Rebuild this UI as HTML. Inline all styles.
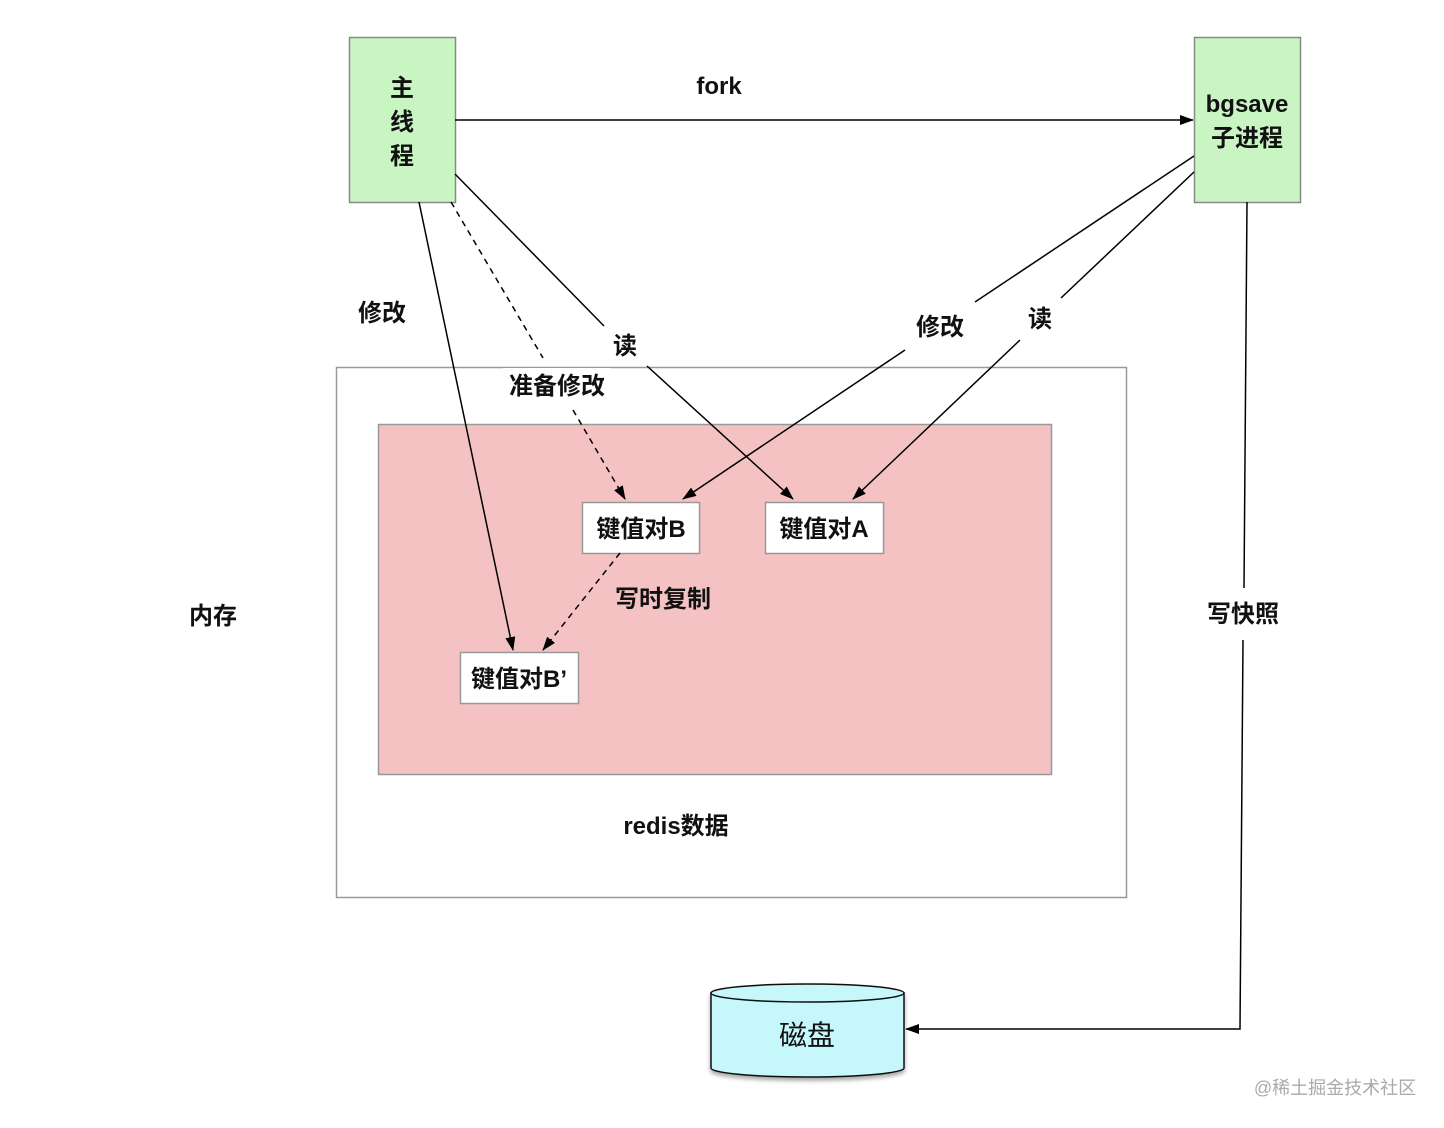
<!DOCTYPE html>
<html><head><meta charset="utf-8"><style>
html,body{margin:0;padding:0;background:#fff;}
svg{display:block;}
text{font-family:"Liberation Sans","Noto Sans CJK SC",sans-serif;font-weight:bold;fill:#111;}
</style></head><body>
<svg width="1444" height="1128" viewBox="0 0 1444 1128" xmlns="http://www.w3.org/2000/svg">
<defs>
<marker id="ar" markerWidth="14" markerHeight="10" refX="13" refY="5" orient="auto" markerUnits="userSpaceOnUse">
<path d="M0,0 L14,5 L0,10 Z" fill="#000"/></marker>
<filter id="sh" x="-10%" y="-10%" width="120%" height="130%"><feDropShadow dx="0" dy="3" stdDeviation="2" flood-color="#000" flood-opacity="0.35"/></filter>
</defs>
<rect x="336.5" y="367.5" width="790" height="530" fill="#fff" stroke="#999" stroke-width="1.5"/>
<rect x="378.5" y="424.5" width="673" height="350" fill="#f4c2c3" stroke="#999" stroke-width="1.5"/>
<rect x="349.5" y="37.5" width="106" height="165" fill="#c9f5c3" stroke="#888" stroke-width="1.5"/>
<text x="402" y="96" font-size="24" text-anchor="middle">主</text>
<text x="402" y="130" font-size="24" text-anchor="middle">线</text>
<text x="402" y="164" font-size="24" text-anchor="middle">程</text>
<rect x="1194.5" y="37.5" width="106" height="165" fill="#c9f5c3" stroke="#888" stroke-width="1.5"/>
<text x="1247" y="112" font-size="24" text-anchor="middle">bgsave</text>
<text x="1247" y="146" font-size="24" text-anchor="middle">子进程</text>
<line x1="455" y1="120" x2="1193" y2="120" stroke="#000" stroke-width="1.5" marker-end="url(#ar)"/>
<text x="719" y="94" font-size="24" text-anchor="middle">fork</text>
<line x1="419" y1="202" x2="513" y2="650" stroke="#000" stroke-width="1.5" marker-end="url(#ar)"/>
<line x1="451" y1="202" x2="543" y2="358" stroke="#000" stroke-width="1.5" stroke-dasharray="6,5"/>
<line x1="573" y1="410" x2="625" y2="499" stroke="#000" stroke-width="1.5" stroke-dasharray="6,5" marker-end="url(#ar)"/>
<rect x="503" y="368" width="108" height="34" fill="#fff"/>
<text x="557" y="394" font-size="24" text-anchor="middle">准备修改</text>
<line x1="455" y1="174" x2="604" y2="326" stroke="#000" stroke-width="1.5"/>
<line x1="647" y1="366" x2="793" y2="499" stroke="#000" stroke-width="1.5" marker-end="url(#ar)"/>
<text x="625" y="354" font-size="24" text-anchor="middle">读</text>
<line x1="1194" y1="156" x2="975" y2="302" stroke="#000" stroke-width="1.5"/>
<line x1="905" y1="350" x2="683" y2="499" stroke="#000" stroke-width="1.5" marker-end="url(#ar)"/>
<text x="940" y="335" font-size="24" text-anchor="middle">修改</text>
<line x1="1194" y1="172" x2="1061" y2="298" stroke="#000" stroke-width="1.5"/>
<line x1="1020" y1="340" x2="853" y2="499" stroke="#000" stroke-width="1.5" marker-end="url(#ar)"/>
<text x="1040" y="327" font-size="24" text-anchor="middle">读</text>
<rect x="582.5" y="502.5" width="117" height="51" fill="#fff" stroke="#999" stroke-width="1.5"/>
<text x="641" y="537" font-size="24" text-anchor="middle">键值对B</text>
<rect x="765.5" y="502.5" width="118" height="51" fill="#fff" stroke="#999" stroke-width="1.5"/>
<text x="824" y="537" font-size="24" text-anchor="middle">键值对A</text>
<rect x="460.5" y="652.5" width="118" height="51" fill="#fff" stroke="#999" stroke-width="1.5"/>
<text x="519" y="687" font-size="24" text-anchor="middle">键值对B’</text>
<line x1="620" y1="553" x2="543" y2="650" stroke="#000" stroke-width="1.5" stroke-dasharray="6,5" marker-end="url(#ar)"/>
<text x="663" y="607" font-size="24" text-anchor="middle">写时复制</text>
<text x="382" y="321" font-size="24" text-anchor="middle">修改</text>
<text x="213" y="624" font-size="24" text-anchor="middle">内存</text>
<text x="676" y="834" font-size="24" text-anchor="middle">redis数据</text>
<polyline points="1247,202 1244,588" fill="none" stroke="#000" stroke-width="1.5"/>
<polyline points="1243,640 1240,1029 906,1029" fill="none" stroke="#000" stroke-width="1.5" marker-end="url(#ar)"/>
<text x="1243" y="622" font-size="24" text-anchor="middle">写快照</text>
<g filter="url(#sh)">
<path d="M711,993 L711,1068 A96.5,9 0 0 0 904,1068 L904,993 Z" fill="#c6f7fb" stroke="#111" stroke-width="1.5"/>
<ellipse cx="807.5" cy="993" rx="96.5" ry="9" fill="#c6f7fb" stroke="#111" stroke-width="1.5"/>
</g>
<text x="807" y="1045" font-size="28" text-anchor="middle" style="font-weight:normal">磁盘</text>
<text x="1335" y="1094" font-size="18" text-anchor="middle" style="font-weight:normal;fill:#aaa">@稀土掘金技术社区</text>
</svg>
</body></html>
